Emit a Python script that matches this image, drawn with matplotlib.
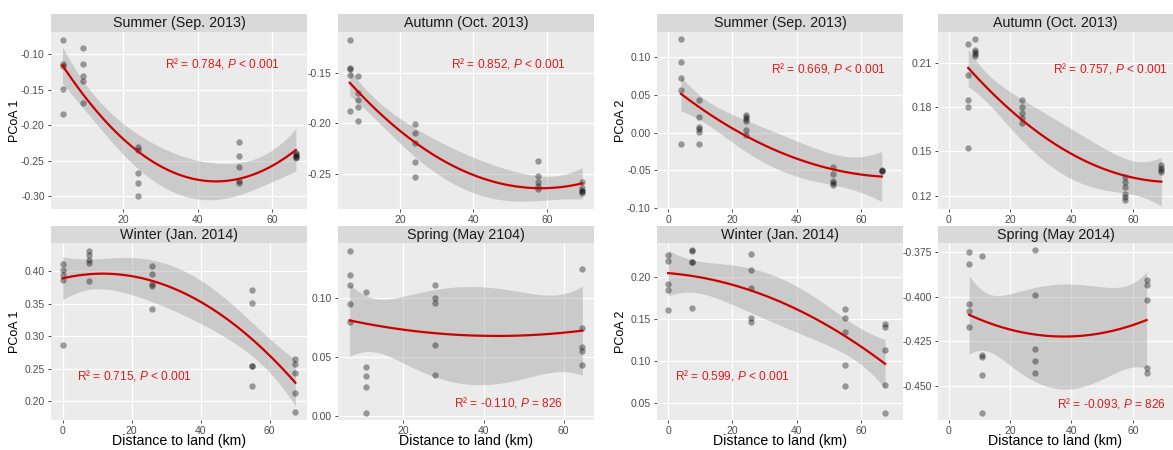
import numpy as np
import matplotlib
matplotlib.use("Agg")
import matplotlib.pyplot as plt
from matplotlib.ticker import FixedLocator, FormatStrFormatter

plt.rcParams['font.family'] = ['Liberation Sans', 'DejaVu Sans']
plt.rcParams['mathtext.fontset'] = 'custom'
plt.rcParams['mathtext.rm'] = 'Liberation Sans'
plt.rcParams['mathtext.it'] = 'Liberation Sans:italic'
plt.rcParams['axes.unicode_minus'] = True

# ---- data (distance to land, PCoA score) ----
# PCoA 1
sum1_x = [3.6]*5 + [9.2]*5 + [23.9]*5 + [51.1]*5 + [66.5]*5
sum1_y = [-0.079, -0.113, -0.117, -0.149, -0.184,
          -0.0915, -0.113, -0.130, -0.138, -0.168,
          -0.231, -0.235, -0.267, -0.282, -0.300,
          -0.224, -0.244, -0.259, -0.279, -0.282,
          -0.239, -0.241, -0.243, -0.245, -0.247]

aut1_x = [6.4]*5 + [8.6]*5 + [24.0]*5 + [57.7]*5 + [69.6]*5
aut1_y = [-0.118, -0.146, -0.147, -0.152, -0.188,
          -0.153, -0.170, -0.177, -0.184, -0.198,
          -0.2005, -0.210, -0.220, -0.238, -0.253,
          -0.2375, -0.2524, -0.2576, -0.262, -0.2653,
          -0.2583, -0.2642, -0.2665, -0.269, -0.267]

win1_x = [0.0]*5 + [7.55]*5 + [25.9]*5 + [54.9]*5 + [67.5]*5
win1_y = [0.4114, 0.4026, 0.3938, 0.3865, 0.2870,
          0.4321, 0.4259, 0.4181, 0.4124, 0.3855,
          0.4078, 0.3964, 0.3808, 0.3777, 0.3415,
          0.3715, 0.3508, 0.2534, 0.2534, 0.2233,
          0.2648, 0.2570, 0.2430, 0.2124, 0.1824]

spr1_x = [6.56]*5 + [10.57]*5 + [27.85]*5 + [64.7]*5
spr1_y = [0.1397, 0.1195, 0.1108, 0.0949, 0.0796,
          0.1051, 0.0415, 0.0337, 0.0246, 0.0031,
          0.1108, 0.1003, 0.0960, 0.0601, 0.0351,
          0.1246, 0.0745, 0.0584, 0.0553, 0.0434]

# PCoA 2
sum2_x = [4.0]*5 + [9.5]*6 + [24.1]*6 + [51.3]*5 + [66.5]*3
sum2_y = [0.123, 0.0929, 0.0726, 0.0567, -0.015,
          0.0433, 0.0203, 0.0079, 0.0044, 0.0013, -0.015,
          0.0225, 0.0203, 0.0181, 0.0150, 0.0035, -0.0035,
          -0.046, -0.0552, -0.0636, -0.0671, -0.0697,
          -0.049, -0.0503, -0.0512]

aut2_x = [6.4]*5 + [8.7]*5 + [24.0]*5 + [57.6]*6 + [69.3]*4
aut2_y = [0.223, 0.2016, 0.1848, 0.180, 0.152,
          0.2261, 0.2189, 0.2177, 0.2161, 0.215,
          0.185, 0.180, 0.1759, 0.1727, 0.1695,
          0.1325, 0.1291, 0.1259, 0.1211, 0.1189, 0.1173,
          0.1405, 0.1389, 0.1373, 0.136]

win2_x = [0.0]*5 + [7.55]*5 + [25.9]*5 + [54.9]*5 + [67.5]*5
win2_y = [0.2251, 0.2179, 0.1916, 0.1837, 0.1602,
          0.231, 0.2298, 0.2171, 0.2167, 0.1626,
          0.2263, 0.2072, 0.1869, 0.1512, 0.1455,
          0.1618, 0.1507, 0.134, 0.0952, 0.0701,
          0.1431, 0.1395, 0.1129, 0.0715, 0.0385]

spr2_x = [6.7]*5 + [10.85]*5 + [28.1]*5 + [64.5]*5
spr2_y = [-0.375, -0.3816, -0.4043, -0.4083, -0.4171,
          -0.3771, -0.4330, -0.4336, -0.444, -0.465,
          -0.3741, -0.3992, -0.4293, -0.4361, -0.4427,
          -0.3906, -0.3932, -0.4019, -0.4398, -0.443]

titles = ["Summer (Sep. 2013)", "Autumn (Oct. 2013)", "Winter (Jan. 2014)",
          "Spring (May 2104)", "Summer (Sep. 2013)", "Autumn (Oct. 2013)",
          "Winter (Jan. 2014)", "Spring (May 2014)"]
stats = ["R² = 0.784, $\\mathit{P}$ < 0.001", "R² = 0.852, $\\mathit{P}$ < 0.001",
         "R² = 0.715, $\\mathit{P}$ < 0.001", "R² = -0.110, $\\mathit{P}$ = 826",
         "R² = 0.669, $\\mathit{P}$ < 0.001", "R² = 0.757, $\\mathit{P}$ < 0.001",
         "R² = 0.599, $\\mathit{P}$ < 0.001", "R² = -0.093, $\\mathit{P}$ = 826"]

# ---- layout (pixels) ----
W, H = 1173, 450
cols = [(51, 307), (338, 594), (657, 903), (938, 1173)]
rows = [(14, 32, 209), (226, 243, 420)]

panels = [
    # x, y, col, row, xlim, ylim, yticks, yfmt, text pos, ylabel, xlabel
    (sum1_x, sum1_y, 0, 0, (0.5, 69.5), (-0.3185, -0.0683), np.arange(-0.30, -0.09, 0.05), '%.2f', (0.67, 0.823), "PCoA 1", False),
    (aut1_x, aut1_y, 1, 0, (3.2, 72.8), (-0.2847, -0.110), [-0.25, -0.20, -0.15], '%.2f', (0.666, 0.823), None, False),
    (win1_x, win1_y, 0, 1, (-3.375, 70.875), (0.1705, 0.444), np.arange(0.20, 0.41, 0.05), '%.2f', (0.326, 0.249), "PCoA 1", True),
    (spr1_x, spr1_y, 1, 1, (3.65, 67.6), (-0.0031, 0.1465), [0.0, 0.05, 0.10], '%.2f', (0.666, 0.098), None, True),
    (sum2_x, sum2_y, 2, 0, (-3.45, 73.1), (-0.101, 0.1327), np.arange(-0.10, 0.11, 0.05), '%.2f', (0.699, 0.791), "PCoA 2", False),
    (aut2_x, aut2_y, 3, 0, (-3.45, 73.1), (0.1109, 0.2311), [0.12, 0.15, 0.18, 0.21], '%.2f', (0.732, 0.793), None, False),
    (win2_x, win2_y, 2, 1, (-3.45, 73.1), (0.0297, 0.2398), [0.05, 0.10, 0.15, 0.20], '%.2f', (0.305, 0.253), "PCoA 2", True),
    (spr2_x, spr2_y, 3, 1, (-3.45, 73.1), (-0.4692, -0.3699), [-0.45, -0.425, -0.40, -0.375], '%.3f', (0.74, 0.092), None, True),
]


def tq975(df):
    z = 1.959964
    return z + (z**3 + z) / (4 * df) + (5 * z**5 + 16 * z**3 + 3 * z) / (96 * df**2)


fig = plt.figure(figsize=(W / 100, H / 100), dpi=100)

for i, (x, y, c, r, xlim, ylim, yt, yfmt, tpos, ylab, xlab) in enumerate(panels):
    x = np.asarray(x, float)
    y = np.asarray(y, float)
    x0, x1 = cols[c]
    s0, p0, p1 = rows[r]
    ax = fig.add_axes([x0 / W, 1 - p1 / H, (x1 - x0) / W, (p1 - p0) / H])
    ax.set_facecolor('#EBEBEB')
    for sp in ax.spines.values():
        sp.set_visible(False)
    ax.set_xlim(*xlim)
    ax.set_ylim(*ylim)
    ax.xaxis.set_major_locator(FixedLocator([0, 20, 40, 60]))
    ax.yaxis.set_major_locator(FixedLocator(list(yt)))
    ax.yaxis.set_major_formatter(FormatStrFormatter(yfmt))
    ax.grid(True, color='white', linewidth=0.9)
    ax.set_axisbelow(True)
    ax.tick_params(length=2.5, width=0.6, color='#333333', labelcolor='#4D4D4D',
                   labelsize=7.5, pad=2)

    # quadratic fit with 95% confidence band
    X = np.vstack([np.ones_like(x), x, x**2]).T
    beta, *_ = np.linalg.lstsq(X, y, rcond=None)
    resid = y - X @ beta
    df = len(x) - 3
    s2 = resid @ resid / df
    XtXi = np.linalg.inv(X.T @ X)
    xs = np.linspace(x.min(), x.max(), 80)
    Xs = np.vstack([np.ones_like(xs), xs, xs**2]).T
    fit = Xs @ beta
    se = np.sqrt(np.einsum('ij,jk,ik->i', Xs, XtXi, Xs) * s2)
    t = tq975(df)
    ax.fill_between(xs, fit - t * se, fit + t * se, color='#999999', alpha=0.4,
                    linewidth=0, zorder=2)
    ax.scatter(x, y, s=21, color='black', alpha=0.36, linewidths=0, zorder=3)
    ax.plot(xs, fit, color='#CD0000', linewidth=1.6, zorder=4)

    ax.text(tpos[0], tpos[1], stats[i], transform=ax.transAxes, ha='center',
            va='center', color='#DD1C1C', fontsize=8.6)

    w = x1 - x0
    if ylab:
        ax.set_ylabel(ylab, fontsize=9, color='black')
        ax.yaxis.set_label_coords(-30 / w, 0.5)
    if xlab:
        ax.set_xlabel("Distance to land (km)", fontsize=10.2, color='black')
        ax.xaxis.set_label_coords(0.5, -14 / (p1 - p0))

    # strip
    sax = fig.add_axes([x0 / W, 1 - p0 / H, (x1 - x0) / W, (p0 - s0) / H])
    sax.set_facecolor('#D9D9D9')
    sax.set_xticks([])
    sax.set_yticks([])
    for sp in sax.spines.values():
        sp.set_visible(False)
    sax.text(0.5, 0.5, titles[i], ha='center', va='center', fontsize=10.3,
             color='#1A1A1A', transform=sax.transAxes)

fig.savefig("out.png", dpi=100, facecolor='white')
